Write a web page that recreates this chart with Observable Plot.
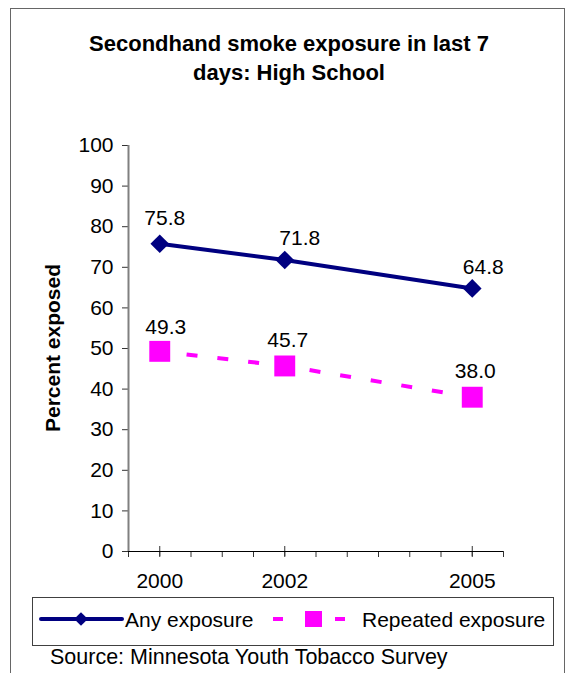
<!DOCTYPE html>
<html>
<head>
<meta charset="utf-8">
<script src="https://cdn.jsdelivr.net/npm/d3@7"></script>
<script src="https://cdn.jsdelivr.net/npm/@observablehq/plot@0.6"></script>
<style>
  html, body { margin: 0; padding: 0; background: #fff; }
  body { font-family: "Liberation Sans", Arial, Helvetica, sans-serif; color: #000; }
  #page { position: relative; width: 566px; height: 673px; overflow: hidden; }
  #border { position: absolute; left: 10px; top: 8px; width: 555px; height: 720px;
            border: 1.5px solid #666; box-sizing: border-box; }
  #title { position: absolute; left: 0; top: 29px; width: 578px; text-align: center;
           font-weight: bold; font-size: 22px; line-height: 29px; }
  #chart { position: absolute; left: 0; top: 0; }
  #ylabel { position: absolute; left: -97px; top: 336px; width: 300px; height: 24px;
            line-height: 24px; text-align: center; font-weight: bold; font-size: 21px;
            transform: rotate(-90deg); }
  #legend { position: absolute; left: 32px; top: 597px; }
  #source { position: absolute; left: 50px; top: 645px; font-size: 21.5px; line-height: 24px; white-space: nowrap; }
</style>
</head>
<body>
<div id="page">
  <div id="border"></div>
  <div id="title">Secondhand smoke exposure in last 7<br>days: High School</div>
  <div id="chart"></div>
  <div id="ylabel">Percent exposed</div>
  <div id="legend"></div>
  <div id="source">Source: Minnesota Youth Tobacco Survey</div>
</div>
<script>
// Survey years and the two exposure series (percent of high school students)
const years = [2000, 2002, 2005];
const anyExposure = [75.8, 71.8, 64.8];
const repeatedExposure = [49.3, 45.7, 38.0];
const seriesNames = ["Any exposure", "Repeated exposure"];
const yTicks = [0, 10, 20, 30, 40, 50, 60, 70, 80, 90, 100];
const xTickLabels = ["2000", "2002", "2005"];

// Small nudges for the value labels, in pixels
const labelDx = [[5, 15, 11], [6, 3, 3]];
const labelDy = [[-19, -15, -14], [-17, -19, -19]];

const NAVY = "#000080";
const MAGENTA = "#FF00FF";
const FONT = '"Liberation Sans", Arial, Helvetica, sans-serif';
const FS = 21;

const anyRows = years.map((year, i) => ({year, value: anyExposure[i], series: seriesNames[0], dx: labelDx[0][i], dy: labelDy[0][i]}));
const repRows = years.map((year, i) => ({year, value: repeatedExposure[i], series: seriesNames[1], dx: labelDx[1][i], dy: labelDy[1][i]}));

// Half-year minor ticks along the year axis
const halfYearTicks = d3.range(1999.5, 2005.51, 0.5);

const valueLabel = (rows) => rows.map((r) => Plot.text([r], {
  x: "year", y: "value", text: (d) => d.value.toFixed(1),
  lineAnchor: "bottom", textAnchor: "middle", dx: r.dx, dy: r.dy,
  fontSize: FS, fill: "#000"
}));

const chart = Plot.plot({
  width: 566,
  height: 673,
  marginLeft: 128,
  marginRight: 63,
  marginTop: 145,
  marginBottom: 122,
  x: {domain: [1999.5, 2005.5]},
  y: {domain: [0, 100]},
  style: {fontFamily: FONT, fontSize: FS + "px", color: "#000", background: "transparent", overflow: "visible"},
  marks: [
    Plot.axisY({ticks: yTicks, tickSize: 6, tickPadding: 9, label: null, tickFormat: (d) => String(d),
                stroke: "#333", fontSize: FS}),
    Plot.axisX({ticks: halfYearTicks, tickSize: 6, tickFormat: () => "", label: null, stroke: "#333"}),
    Plot.axisX({ticks: years, tickSize: 10, dy: -5, tickFormat: () => "", label: null, stroke: "#333"}),
    Plot.axisX({ticks: years, tickSize: 0, tickPadding: 22, label: null,
                tickFormat: (d) => xTickLabels[years.indexOf(d)], fontSize: FS}),
    Plot.ruleY([0], {stroke: "#000", strokeWidth: 1}),
    Plot.ruleX([1999.5], {y1: 0, y2: 100, stroke: "#808080", strokeWidth: 2}),
    Plot.line(anyRows, {x: "year", y: "value", stroke: NAVY, strokeWidth: 4}),
    Plot.dot(anyRows, {x: "year", y: "value", symbol: "diamond2", r: 8.4, fill: NAVY}),
    Plot.line(repRows, {x: "year", y: "value", stroke: MAGENTA, strokeWidth: 4,
                        strokeDasharray: "11,20", strokeDashoffset: 4, strokeLinecap: "butt"}),
    Plot.dot(repRows, {x: "year", y: "value", symbol: "square", r: 11.8, fill: MAGENTA}),
    ...valueLabel(anyRows),
    ...valueLabel(repRows)
  ]
});
document.getElementById("chart").append(chart);

// Legend box with the series symbols
const legendW = 522, legendH = 49;
const lg = d3.select("#legend").append("svg")
  .attr("width", legendW).attr("height", legendH)
  .style("font-family", FONT).style("font-size", FS + "px");
lg.append("rect").attr("x", 0.5).attr("y", 0.5).attr("width", legendW - 1).attr("height", legendH - 1)
  .attr("fill", "#fff").attr("stroke", "#404040").attr("stroke-width", 1);
const cy = 22;
lg.append("line").attr("x1", 9).attr("x2", 90).attr("y1", cy).attr("y2", cy)
  .attr("stroke", NAVY).attr("stroke-width", 4).attr("stroke-linecap", "round");
lg.append("path").attr("d", d3.symbol(d3.symbolDiamond2, 120)()).attr("transform", `translate(49,${cy})`).attr("fill", NAVY);
lg.append("text").attr("x", 93).attr("y", 30).text(seriesNames[0]);
lg.append("line").attr("x1", 241).attr("x2", 251).attr("y1", cy).attr("y2", cy)
  .attr("stroke", MAGENTA).attr("stroke-width", 4);
lg.append("line").attr("x1", 303).attr("x2", 313).attr("y1", cy).attr("y2", cy)
  .attr("stroke", MAGENTA).attr("stroke-width", 4);
lg.append("rect").attr("x", 273).attr("y", cy - 8).attr("width", 17).attr("height", 16).attr("fill", MAGENTA);
lg.append("text").attr("x", 330).attr("y", 30).text(seriesNames[1]);
</script>
</body>
</html>
